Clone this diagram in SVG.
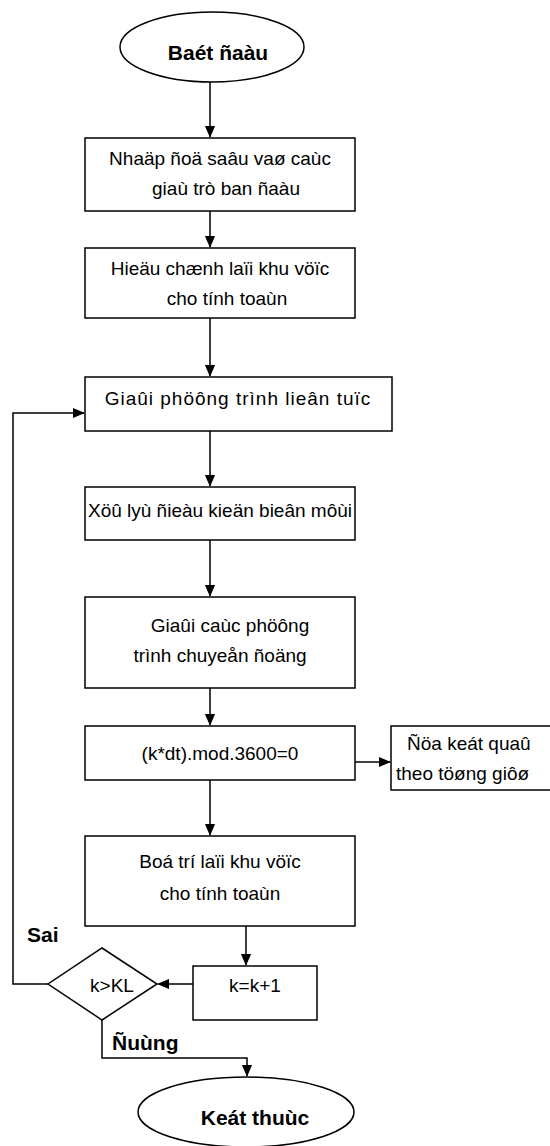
<svg xmlns="http://www.w3.org/2000/svg" width="550" height="1146" viewBox="0 0 550 1146">
<defs>
<marker id="arr" markerWidth="12" markerHeight="14" refX="13" refY="6" orient="auto" markerUnits="userSpaceOnUse" viewBox="0 0 14 12">
<path d="M0,0 L14,6 L0,12 Z" fill="#000"/>
</marker>
<style>
.box{fill:#fff;stroke:#000;stroke-width:1.5}
.t{font-family:"Liberation Sans",Arial,sans-serif;font-size:19px;fill:#000}
.m{text-anchor:middle}
.b{font-family:"Liberation Sans",Arial,sans-serif;font-size:21px;font-weight:bold;fill:#000}
.c{fill:none;stroke:#000;stroke-width:1.5}
</style>
</defs>
<g id="connectors">
<path class="c" d="M210,82 V137" marker-end="url(#arr)"/>
<path class="c" d="M210,211 V247" marker-end="url(#arr)"/>
<path class="c" d="M210,318 V376" marker-end="url(#arr)"/>
<path class="c" d="M210,431 V486" marker-end="url(#arr)"/>
<path class="c" d="M210,540 V596" marker-end="url(#arr)"/>
<path class="c" d="M210,688 V725" marker-end="url(#arr)"/>
<path class="c" d="M355,762 H390" marker-end="url(#arr)"/>
<path class="c" d="M210,780 V835" marker-end="url(#arr)"/>
<path class="c" d="M246,926 V965" marker-end="url(#arr)"/>
<path class="c" d="M193,984 H158" marker-end="url(#arr)"/>
<path class="c" d="M48,984 H13 V413 H84" marker-end="url(#arr)"/>
<path class="c" d="M102,1020 V1058 H247 V1076" marker-end="url(#arr)"/>
</g>
<g id="start">
<ellipse class="box" cx="212" cy="47" rx="92" ry="35"/>
<text class="b m" x="218" y="60">Baét ñaàu</text>
</g>
<g id="input">
<rect class="box" x="85" y="138" width="270" height="73"/>
<text class="t m" x="220" y="165">Nhaäp ñoä saâu vaø caùc</text>
<text class="t m" x="226" y="195">giaù trò ban ñaàu</text>
</g>
<g id="adjust">
<rect class="box" x="85" y="248" width="270" height="70"/>
<text class="t m" x="220" y="275">Hieäu chænh laïi khu vöïc</text>
<text class="t m" x="227" y="305">cho tính toaùn</text>
</g>
<g id="continuity">
<rect class="box" x="85" y="377" width="307" height="54"/>
<text class="t m" x="238" y="405" letter-spacing="1">Giaûi phöông trình lieân tuïc</text>
</g>
<g id="boundary">
<rect class="box" x="85" y="487" width="270" height="53"/>
<text class="t m" x="220" y="517">Xöû lyù ñieàu kieän bieân môùi</text>
</g>
<g id="motion">
<rect class="box" x="85" y="597" width="270" height="91"/>
<text class="t m" x="230" y="632">Giaûi caùc phöông</text>
<text class="t m" x="220" y="662">trình chuyeån ñoäng</text>
</g>
<g id="check">
<rect class="box" x="85" y="726" width="270" height="54"/>
<text class="t m" x="220" y="760">(k*dt).mod.3600=0</text>
</g>
<g id="output">
<rect class="box" x="391" y="726" width="170" height="64"/>
<text class="t" x="407" y="750">Ñöa keát quaû</text>
<text class="t" x="396" y="780">theo töøng giôø</text>
</g>
<g id="rearrange">
<rect class="box" x="85" y="836" width="270" height="90"/>
<text class="t m" x="220" y="868">Boá trí laïi khu vöïc</text>
<text class="t m" x="220" y="900">cho tính toaùn</text>
</g>
<g id="increment">
<rect class="box" x="193" y="966" width="124" height="54"/>
<text class="t m" x="255" y="992">k=k+1</text>
</g>
<g id="decision">
<polygon class="box" points="102,948 157,984 102,1020 48,984"/>
<text class="t m" x="112" y="992">k&gt;KL</text>
</g>
<g id="labels">
<text class="b" x="27" y="942">Sai</text>
<text class="b" x="112" y="1050">Ñuùng</text>
</g>
<g id="end">
<ellipse class="box" cx="246" cy="1112" rx="108" ry="35"/>
<text class="b m" x="255" y="1125">Keát thuùc</text>
</g>
</svg>
